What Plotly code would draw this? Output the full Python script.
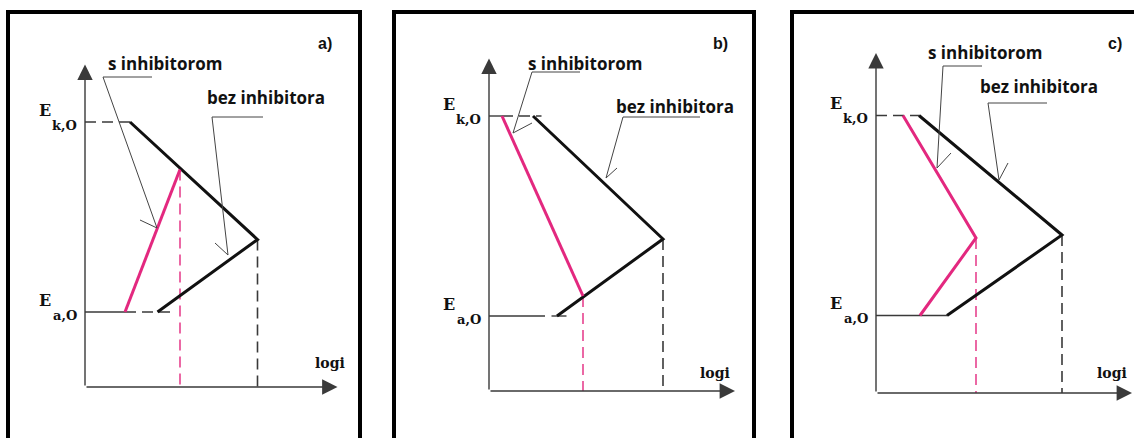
import plotly.graph_objects as go

# ---- data (diagram units: logi along x, E along y; origin = axes crossing) ----
panel_tags = ["a)", "b)", "c)"]

E_k0 = [10.6, 11.0, 11.1]   # E_k,0 level per panel
E_a0 = [3.0, 3.0, 3.1]      # E_a,0 level per panel

# "bez inhibitora" polarisation curves (black)
bez_x = [[1.8, 6.9, 2.9], [1.76, 6.96, 2.72], [1.72, 7.44, 2.84]]
bez_y = [[10.6, 5.9, 3.0], [11.0, 6.08, 3.0], [11.1, 6.32, 3.1]]

# "s inhibitorom" polarisation curves (pink)
sinh_x = [[1.6, 3.8], [0.52, 3.76], [1.08, 4.0, 1.76]]
sinh_y = [[3.0, 8.7], [11.0, 3.8], [11.1, 6.2, 3.1]]

# guide segments on the E_k,0 / E_a,0 levels: (x0, x1, dashed)
ek_guides = [[(0, 1.8, True)], [(0, 0.52, False), (0.52, 2.1, True)], [(0, 1.72, True)]]
ea_guides = [[(0, 1.6, False), (1.6, 3.5, True)], [(0, 2.24, False), (2.5, 3.1, False)], [(0, 2.84, False)]]

# axis lengths (logi arrow, E arrow)
x_len = [10.1, 9.84, 10.24]
y_len = [12.9, 13.3, 13.6]

# ---- layout in pixels ----
W, H = 1134, 438
UNIT = 25
TOP = 12
boxes = [(8, 360), (394, 754), (792, 1200)]
origins = [(85, 387), (489, 391), (876, 393)]

# label positions (diagram units) and leader lines
s_lab = [(3.18, 12.96), (3.82, 13.12), (4.34, 13.64)]
b_lab = [(7.24, 11.6), (7.42, 11.4), (6.5, 12.28)]
s_lead = [
    [(2.68, 12.4), (0.72, 12.4), (2.88, 6.36), (2.2, 6.68)],
    [(3.64, 12.76), (1.72, 12.76), (0.96, 10.32), (1.72, 10.72)],
    [(4.24, 13.08), (2.68, 13.08), (2.44, 9.0), (3.0, 9.6)],
]
b_lead = [
    [(7.12, 10.8), (5.08, 10.8), (5.72, 5.28), (5.2, 5.76)],
    [(8.44, 10.96), (5.36, 10.96), (4.68, 8.52), (5.12, 8.92)],
    [(6.84, 11.6), (4.48, 11.6), (4.92, 8.52), (5.28, 9.2)],
]
tag_pos = [(9.6, 13.76), (9.24, 13.92), (9.56, 14.0)]
logi_pos = [(9.8, 0.96), (9.04, 0.72), (9.45, 0.8)]

PINK = "#e3287f"
BLACK = "#111111"
AXIS = "#3a3a3a"
DASH = "11px,6px"
SERIF = "DejaVu Serif"
SANS = "Open Sans"

fig = go.Figure()
annotations = []
shapes = []

for i in range(3):
    sfx = "" if i == 0 else str(i + 1)
    xr, yr = "x" + sfx, "y" + sfx
    left, right = boxes[i]
    ox, oy = origins[i]
    r = min(right, W)
    fig.update_layout({
        "xaxis" + sfx: dict(domain=[left / W, r / W], range=[(left - ox) / UNIT, (r - ox) / UNIT],
                            visible=False, anchor=yr, fixedrange=True),
        "yaxis" + sfx: dict(domain=[0, 1 - TOP / H], range=[(oy - H) / UNIT, (oy - TOP) / UNIT],
                            visible=False, anchor=xr, fixedrange=True),
    })

    def seg(xs, ys, color, width, dash="solid"):
        fig.add_trace(go.Scatter(x=xs, y=ys, mode="lines", xaxis=xr, yaxis=yr, showlegend=False,
                                 hoverinfo="skip", line=dict(color=color, width=width, dash=dash)))

    # E level guides
    for x0, x1, d in ek_guides[i]:
        seg([x0, x1], [E_k0[i], E_k0[i]], AXIS, 1.4, DASH if d else "solid")
    for x0, x1, d in ea_guides[i]:
        seg([x0, x1], [E_a0[i], E_a0[i]], AXIS, 1.4, DASH if d else "solid")

    # drop lines to logi axis from the far-right point of each curve
    j = bez_x[i].index(max(bez_x[i]))
    seg([bez_x[i][j], bez_x[i][j]], [bez_y[i][j], 0], AXIS, 1.6, DASH)
    k = sinh_x[i].index(max(sinh_x[i]))
    seg([sinh_x[i][k], sinh_x[i][k]], [sinh_y[i][k], 0], PINK, 1.4, DASH)

    # curves
    seg(bez_x[i], bez_y[i], BLACK, 3)
    seg(sinh_x[i], sinh_y[i], PINK, 3)

    # leader lines
    for lead in (s_lead[i], b_lead[i]):
        seg([p[0] for p in lead], [p[1] for p in lead], "#444444", 1)

    # axes with arrowheads
    for tx, ty in ((x_len[i], 0), (0, y_len[i])):
        annotations.append(dict(x=tx, y=ty, ax=0, ay=0, xref=xr, yref=yr, axref=xr, ayref=yr,
                                showarrow=True, arrowhead=2, arrowsize=2.2, arrowwidth=1.4,
                                arrowcolor=AXIS, text=""))

    # texts
    annotations.append(dict(x=s_lab[i][0], y=s_lab[i][1], xref=xr, yref=yr, text="s inhibitorom",
                            showarrow=False, font=dict(family=SANS, size=17, color="#111", weight="bold")))
    annotations.append(dict(x=b_lab[i][0], y=b_lab[i][1], xref=xr, yref=yr, text="bez inhibitora",
                            showarrow=False, font=dict(family=SANS, size=17, color="#111", weight="bold")))
    annotations.append(dict(x=tag_pos[i][0], y=tag_pos[i][1], xref=xr, yref=yr, text=panel_tags[i],
                            showarrow=False, font=dict(family="Liberation Sans", size=16, color="#111",
                                                       weight="bold")))
    annotations.append(dict(x=logi_pos[i][0], y=logi_pos[i][1], xref=xr, yref=yr, text="logi",
                            showarrow=False, font=dict(family=SERIF, size=14, color="#111", weight="bold")))
    # E with a strongly lowered subscript, as in the drawing
    for lvl, sub in ((E_k0[i], "k,O"), (E_a0[i], "a,O")):
        annotations.append(dict(x=-1.3, y=lvl, xref=xr, yref=yr, text="E", xanchor="right",
                                yanchor="middle", yshift=12, showarrow=False,
                                font=dict(family=SERIF, size=16, color="#111", weight="bold")))
        annotations.append(dict(x=-0.25, y=lvl, xref=xr, yref=yr, text=sub, xanchor="right",
                                yanchor="middle", yshift=-3, showarrow=False,
                                font=dict(family=SERIF, size=13, color="#111", weight="bold")))

    # panel frame (bottom edge lies outside the picture)
    shapes.append(dict(type="rect", xref="paper", yref="paper", x0=left / W, x1=right / W,
                       y0=-0.2, y1=1 - TOP / H, line=dict(color="black", width=4), layer="above"))

fig.update_layout(
    width=W, height=H,
    margin=dict(l=0, r=0, t=0, b=0),
    paper_bgcolor="white", plot_bgcolor="white",
    annotations=annotations, shapes=shapes,
)

# the page's default body margin would shift the figure; drop it
fig.write_html("out.html", config={"displayModeBar": False},
               post_script="document.body.style.margin='0';document.body.style.overflow='hidden';")
